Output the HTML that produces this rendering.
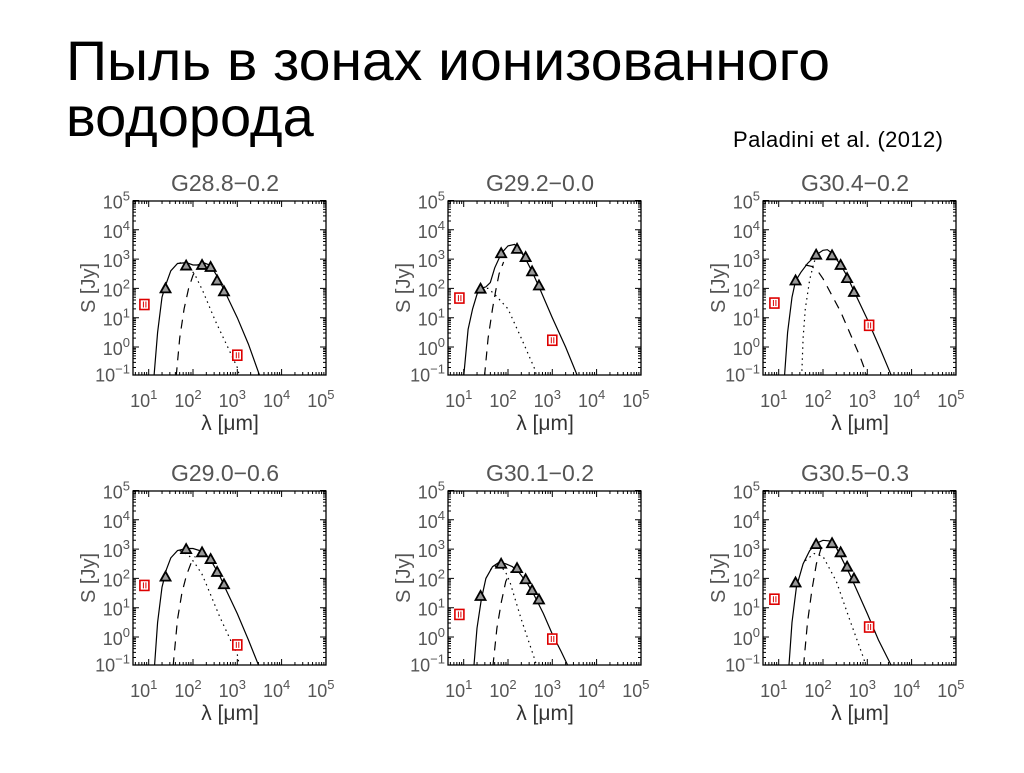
<!DOCTYPE html>
<html><head><meta charset="utf-8">
<style>
body{margin:0;background:#fff;width:1024px;height:768px;overflow:hidden}
svg text{font-family:"Liberation Sans",sans-serif}
</style></head><body>
<svg id="s" width="1024" height="768" xmlns="http://www.w3.org/2000/svg">
<text x="66" y="80" font-size="56" textLength="764" lengthAdjust="spacingAndGlyphs" fill="#000">Пыль в зонах ионизованного</text>
<text x="66" y="136" font-size="56" fill="#000">водорода</text>
<text x="733" y="147" font-size="22" textLength="210" fill="#000">Paladini et al. (2012)</text>
</svg>
<script>
const panelNames=["G28.8−0.2","G29.2−0.0","G30.4−0.2","G29.0−0.6","G30.1−0.2","G30.5−0.3"];
const triWave=[24,70,160,250,350,500];
const triFlux=[
[2.0,2.78,2.8,2.73,2.27,1.9],
[1.99,3.2,3.35,3.07,2.58,2.1],
[2.27,3.15,3.13,2.8,2.35,1.88],
[2.06,3.0,2.89,2.66,2.22,1.8],
[1.4,2.5,2.35,1.97,1.6,1.28],
[1.86,3.17,3.2,2.89,2.4,2.0]];
const sqWave=[[8,1000],[8,1000],[8,1100],[8,1000],[8,1000],[8,1100]];
const sqFlux=[[1.45,-0.28],[1.67,0.23],[1.5,0.74],[1.76,-0.27],[0.77,-0.07],[1.29,0.34]];
const solid=[
[[1.12,-1],[1.2,0.5],[1.3,1.7],[1.38,2.1],[1.5,2.6],[1.65,2.85],[1.85,2.88],[2.0,2.8],[2.1,2.8],[2.25,2.87],[2.4,2.78],[2.55,2.4],[2.7,1.95],[3.0,1.0],[3.25,0.1],[3.51,-1]],
[[1.0,-1],[1.1,0.6],[1.2,1.3],[1.3,1.8],[1.38,2.0],[1.5,2.05],[1.6,2.2],[1.7,2.7],[1.85,3.2],[2.0,3.45],[2.15,3.5],[2.25,3.35],[2.4,3.0],[2.55,2.55],[2.7,2.05],[3.0,1.0],[3.3,0],[3.57,-1]],
[[1.13,-1],[1.2,0.5],[1.3,1.7],[1.38,2.25],[1.5,2.55],[1.65,2.85],[1.85,3.15],[2.0,3.3],[2.1,3.32],[2.2,3.2],[2.4,2.8],[2.55,2.4],[2.7,1.9],[3.0,0.95],[3.3,-0.1],[3.55,-1]],
[[1.13,-1],[1.2,0.5],[1.3,1.7],[1.4,2.3],[1.5,2.7],[1.65,2.95],[1.85,3.02],[2.0,3.02],[2.15,2.95],[2.3,2.8],[2.45,2.5],[2.6,2.1],[2.75,1.6],[3.0,0.8],[3.25,-0.1],[3.49,-1]],
[[1.23,-1],[1.3,0.3],[1.4,1.3],[1.5,2.0],[1.65,2.4],[1.8,2.55],[1.95,2.5],[2.1,2.4],[2.25,2.2],[2.45,1.8],[2.6,1.4],[2.8,0.8],[3.0,0.1],[3.2,-0.5],[3.36,-1]],
[[1.23,-1],[1.3,0.5],[1.4,1.7],[1.55,2.5],[1.7,2.95],[1.85,3.2],[2.0,3.3],[2.15,3.28],[2.3,3.05],[2.45,2.6],[2.6,2.15],[2.75,1.65],[3.0,0.8],[3.25,-0.1],[3.55,-1]]];
const dotted=[
[[1.7,2.88],[1.9,2.75],[2.05,2.45],[2.23,1.88],[2.5,0.9],[2.8,-0.05],[3.0,-0.7],[3.05,-1]],
[[1.4,2.0],[1.55,2.0],[1.7,1.8],[2.0,1.3],[2.3,0.3],[2.6,-0.74],[2.65,-1]],
[[1.52,-1],[1.55,0.3],[1.6,1.3],[1.7,2.3],[1.8,2.9],[1.9,3.2]],
[[1.7,2.95],[1.9,2.8],[2.05,2.5],[2.2,2.15],[2.3,1.8],[2.6,0.7],[3.0,-0.6],[3.05,-1]],
[[1.6,2.3],[1.8,2.5],[1.95,2.2],[2.05,1.85],[2.3,0.6],[2.58,-0.66],[2.65,-1]],
[[1.6,2.6],[1.8,2.85],[2.0,2.75],[2.3,1.9],[2.6,0.6],[2.92,-0.74],[2.97,-1]]];
const dashed=[
[[1.62,-1],[1.7,0.3],[1.8,1.3],[1.9,2.0],[2.0,2.45],[2.1,2.7],[2.25,2.85]],
[[1.47,-1],[1.55,0.3],[1.65,1.3],[1.72,1.9],[1.8,2.5],[1.9,2.9]],
[[1.6,2.8],[1.75,2.75],[1.9,2.55],[2.0,2.33],[2.4,1.2],[2.84,-0.34],[3.0,-1]],
[[1.55,-1],[1.65,0.6],[1.75,1.5],[1.85,2.1],[1.95,2.5],[2.05,2.75]],
[[1.66,-1],[1.75,0.3],[1.85,1.2],[1.95,1.9],[2.05,2.2],[2.15,2.3]],
[[1.56,-1],[1.65,0.5],[1.75,1.6],[1.85,2.5],[1.95,3.0],[2.05,3.25]]];
const xTicks=[1,2,3,4,5];
const yTicks=[-1,0,1,2,3,4,5];

const NS="http://www.w3.org/2000/svg";
const svg=document.getElementById('s');
function mk(tag,attrs,parent){const e=document.createElementNS(NS,tag);for(const k in attrs)e.setAttribute(k,attrs[k]);(parent||svg).appendChild(e);return e;}
const GREY="#555";
panelNames.forEach((name,i)=>{
  const ox=(i%3)*315, oy=Math.floor(i/3)*290;
  const L=133+ox,R=326+ox,T=201+oy,B=375+oy;
  const X=v=>193+ox+(v-2)*44.3;
  const Y=v=>347+oy-v*29.3;
  const g=mk('g',{});
  
  
  const cp=mk('clipPath',{id:'c'+i},g);
  mk('rect',{x:L,y:T,width:R-L,height:B-T},cp);
  const t=mk('text',{x:225+ox,y:191+oy,'font-size':23,fill:GREY,'text-anchor':'middle'},g);
  t.textContent=name;
  
  
  const box=mk('rect',{x:L,y:T,width:R-L,height:B-T,fill:'none',stroke:'#000','stroke-width':1.3},g);
  
  
  let tk='';
  for(let d=0;d<=5;d++)for(let m=1;m<10;m++){const v=d+Math.log10(m);if(v<0.645||v>5)continue;const x=X(v),len=m==1?6:3;tk+=`M${x} ${B}v${-len}M${x} ${T}v${len}`;}
  for(let d=-1;d<=5;d++)for(let m=1;m<10;m++){const v=d+Math.log10(m);if(v<-0.96||v>5)continue;const y=Y(v),len=m==1?6:3;tk+=`M${L} ${y}h${len}M${R} ${y}h${-len}`;}
  const tp=mk('path',{d:tk,stroke:'#000','stroke-width':1,fill:'none'},g);
  
  
  xTicks.forEach(v=>{const tx=mk('text',{x:X(v)-5,y:407+oy,'font-size':18,fill:GREY,'text-anchor':'middle'},g);
    tx.innerHTML=`10<tspan dy="-8" font-size="13">${v}</tspan>`;
    
    });
  yTicks.forEach(v=>{const ty=mk('text',{x:L-3,y:Y(v)+8+(v==-1?-3:0),'font-size':18,fill:GREY,'text-anchor':'end'},g);
    ty.innerHTML=`10<tspan dy="-8" font-size="13">${v==-1?'−1':v}</tspan>`;
    
    });
  const yt=mk('text',{x:0,y:0,'font-size':20,fill:GREY,'text-anchor':'middle',transform:`translate(${95+ox},${288+oy}) rotate(-90)`},g);
  yt.textContent='S  [Jy]';
  
  
  const xt=mk('text',{x:230+ox,y:430+oy,'font-size':21,fill:'#333','text-anchor':'middle','font-family':'Liberation Serif, serif'},g);
  xt.textContent='λ [μm]';
  
  
  const line=(pts,dash,nm)=>{const p=mk('path',{d:'M'+pts.map(q=>X(q[0]).toFixed(1)+' '+Y(q[1]).toFixed(1)).join('L'),fill:'none',stroke:'#000','stroke-width':1.2,'stroke-dasharray':dash,'clip-path':`url(#c${i})`},g);
    
    };
  line(dashed[i],'9 7','cold-component-curve');
  line(dotted[i],'1.5 4','warm-component-curve');
  line(solid[i],'none','total-model-curve');
  triWave.forEach((w,k)=>{const x=X(Math.log10(w)),y=Y(triFlux[i][k]);
    const tr=mk('path',{d:`M${x} ${y-5}L${x+5} ${y+4}L${x-5} ${y+4}Z`,fill:'#999',stroke:'#000','stroke-width':1.8},g);
    
    });
  sqWave[i].forEach((w,k)=>{const x=X(Math.log10(w)),y=Y(sqFlux[i][k]);
    const r=mk('rect',{x:x-4.5,y:y-5,width:9,height:10,fill:'#fff',stroke:'#d00','stroke-width':1.6},g);
    
    
    const l=mk('path',{d:`M${x-1} ${y-3}v6M${x+1.5} ${y-3}v6`,stroke:'#d00','stroke-width':1},g);
    
    });
});
</script>
</body></html>
